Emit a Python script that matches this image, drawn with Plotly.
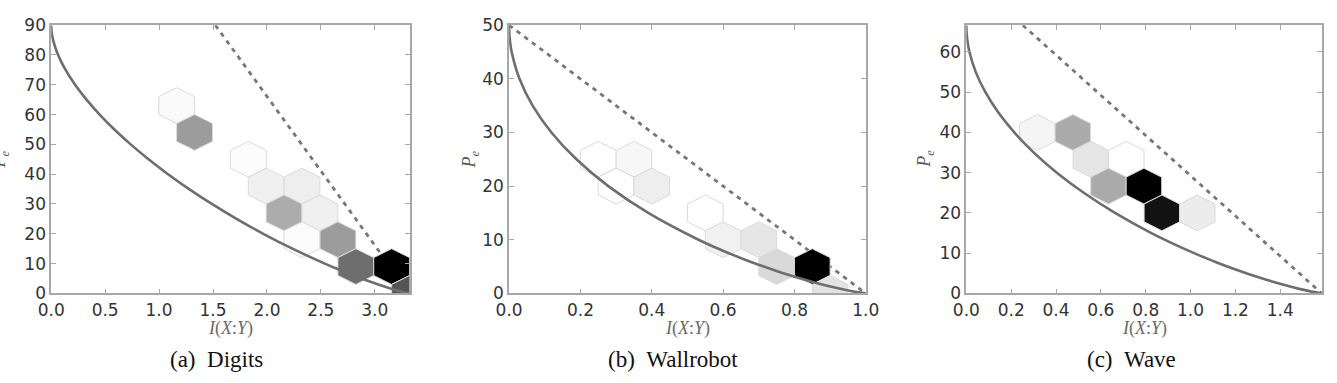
import plotly.graph_objects as go

W, H = 1337, 383

# ---------------- data ----------------
# (a) Digits  (10 classes)
a_hex_I = [1.163, 1.329, 1.827, 1.993, 2.325, 2.159, 2.491, 2.325, 2.658, 2.824, 3.156, 3.322]
a_hex_Pe = [63, 54, 45, 36, 36, 27, 27, 18, 18, 9, 9, 0]
a_hex_density = [0.02, 0.39, 0.01, 0.06, 0.065, 0.325, 0.06, 0.015, 0.39, 0.57, 1.0, 0.67]
a_fano_Pe = [0, 0.5, 1, 2, 4, 6, 8, 10, 15, 20, 25, 30, 35, 40, 45, 50, 55, 60, 65, 70, 75, 80, 85, 88, 89, 90]
a_fano_I = [3.3219, 3.2606, 3.2094, 3.1171, 2.9528, 2.8043, 2.6661, 2.5359, 2.2366, 1.9660, 1.7181,
            1.4896, 1.2784, 1.0830, 0.9027, 0.7370, 0.5857, 0.4490, 0.3274, 0.2217, 0.1332, 0.0641,
            0.0176, 0.0030, 0.0008, 0.0]
a_upper_I = [1.5219, 3.3219]
a_upper_Pe = [90, 0]

# (b) Wallrobot  (2 classes)
b_hex_I = [0.25, 0.35, 0.30, 0.40, 0.55, 0.60, 0.70, 0.75, 0.85, 0.90]
b_hex_Pe = [25, 25, 20, 20, 15, 10, 10, 5, 5, 0]
b_hex_density = [0.005, 0.03, 0.005, 0.065, 0.005, 0.055, 0.10, 0.15, 1.0, 0.11]
b_fano_Pe = [0, 0.5, 1, 2, 4, 6, 8, 10, 15, 20, 25, 30, 35, 40, 45, 47, 48, 49, 50]
b_fano_I = [1.0, 0.9546, 0.9192, 0.8586, 0.7577, 0.6726, 0.5978, 0.5310, 0.3902, 0.2781, 0.1887,
            0.1187, 0.0659, 0.0291, 0.0072, 0.0026, 0.0011, 0.0003, 0.0]
b_upper_I = [0.0, 1.0]
b_upper_Pe = [50, 0]

# (c) Wave  (3 classes)
c_hex_I = [0.317, 0.475, 0.555, 0.713, 0.634, 0.792, 0.872, 1.030]
c_hex_Pe = [40, 40, 33.33, 33.33, 26.67, 26.67, 20, 20]
c_hex_density = [0.04, 0.33, 0.10, 0.005, 0.335, 1.0, 0.93, 0.075]
c_fano_Pe = [0, 0.5, 1, 2, 4, 6, 8, 10, 15, 20, 25, 30, 35, 40, 45, 50, 55, 60, 63, 65, 66.67]
c_fano_I = [1.5850, 1.5345, 1.4942, 1.4235, 1.3027, 1.1975, 1.1028, 1.0160, 0.8251, 0.6630, 0.5237,
            0.4037, 0.3009, 0.2140, 0.1422, 0.0850, 0.0422, 0.0140, 0.0043, 0.0009, 0.0]
c_upper_I = [0.2516, 1.585]
c_upper_Pe = [66.67, 0]

x_max = [3.3219, 1.0, 1.585]
y_max = [90, 50, 66.67]
x_dtick = [0.5, 0.2, 0.2]
captions = ["(a)\u00a0\u00a0Digits", "(b)\u00a0\u00a0Wallrobot", "(c)\u00a0\u00a0Wave"]

panels = [
    (a_hex_I, a_hex_Pe, a_hex_density, a_fano_I, a_fano_Pe, a_upper_I, a_upper_Pe),
    (b_hex_I, b_hex_Pe, b_hex_density, b_fano_I, b_fano_Pe, b_upper_I, b_upper_Pe),
    (c_hex_I, c_hex_Pe, c_hex_density, c_fano_I, c_fano_Pe, c_upper_I, c_upper_Pe),
]

# ---------------- layout geometry (pixels) ----------------
plot_left = [38, 505.7, 972.7]
plot_right = [404, 870, 1335.7]
plot_top, plot_bottom = 16, 299
ylabel_x = [-14, 466, 931]
caption_x = [207, 673.5, 1141.5]

GRIDSIZE = 10


def gray(v):
    g = int(round(255 * (1 - v)))
    return f"rgb({g},{g},{g})"


fig = go.Figure()

for i, (hI, hP, hD, fI, fP, uI, uP) in enumerate(panels):
    xa = "x" if i == 0 else f"x{i+1}"
    ya = "y" if i == 0 else f"y{i+1}"
    sx = x_max[i] / GRIDSIZE
    sy = y_max[i] / int(GRIDSIZE / 3 ** 0.5)

    # upper bound (dashed), below hexes
    fig.add_trace(go.Scatter(x=uI, y=uP, mode="lines", xaxis=xa, yaxis=ya,
                             line=dict(color="#777777", width=2.8, dash="4.5px,5px"),
                             hoverinfo="skip", showlegend=False))
    # hexbins
    for cx, cy, d in zip(hI, hP, hD):
        xs = [cx + sx / 2, cx + sx / 2, cx, cx - sx / 2, cx - sx / 2, cx, cx + sx / 2]
        ys = [cy - sy / 6, cy + sy / 6, cy + sy / 3, cy + sy / 6, cy - sy / 6, cy - sy / 3, cy - sy / 6]
        fig.add_trace(go.Scatter(x=xs, y=ys, mode="lines", fill="toself", fillcolor=gray(d),
                                 line=dict(color="#dadada", width=1), xaxis=xa, yaxis=ya,
                                 hoverinfo="skip", showlegend=False))
    # Fano lower bound (solid)
    fig.add_trace(go.Scatter(x=fI, y=fP, mode="lines", xaxis=xa, yaxis=ya,
                             line=dict(color="#6e6e6e", width=2.6, shape="spline"),
                             hoverinfo="skip", showlegend=False))

axis_common = dict(showgrid=False, zeroline=False, showline=True, linecolor="#a8a8a8", linewidth=1.6,
                   mirror="allticks", ticks="inside", ticklen=5, tickwidth=1, tickcolor="#a8a8a8",
                   tickfont=dict(family="DejaVu Sans", size=17, color="#333333"), fixedrange=True)

layout = dict(width=W, height=H, margin=dict(l=0, r=0, t=0, b=0), paper_bgcolor="white",
              plot_bgcolor="white", showlegend=False)

y0 = 1 - plot_bottom / H
y1 = 1 - plot_top / H
annotations = []
for i in range(3):
    sfx = "" if i == 0 else str(i + 1)
    layout["xaxis" + sfx] = dict(axis_common, domain=[plot_left[i] / W, plot_right[i] / W],
                                 range=[0, x_max[i]], tick0=0, dtick=x_dtick[i], tickformat=".1f",
                                 anchor="y" + sfx)
    layout["yaxis" + sfx] = dict(axis_common, domain=[y0, y1], range=[0, y_max[i]], tick0=0, dtick=10,
                                 anchor="x" + sfx)
    cx = (plot_left[i] + plot_right[i]) / 2
    annotations.append(dict(text="<i>I</i>(<i>X</i>:<i>Y</i>)", x=cx / W, y=1 - 336 / H, xref="paper",
                            yref="paper", showarrow=False, xanchor="center", yanchor="middle",
                            font=dict(family="Liberation Serif", size=18, color="#6a6a6a")))
    annotations.append(dict(text="<i>P</i><sub><i>e</i></sub>", x=ylabel_x[i] / W,
                            y=1 - (plot_top + plot_bottom) / 2 / H, xref="paper", yref="paper",
                            showarrow=False, xanchor="center", yanchor="middle", textangle=-90,
                            font=dict(family="Liberation Serif", size=18, color="#555555")))
    annotations.append(dict(text=captions[i], x=caption_x[i] / W, y=1 - 369 / H, xref="paper",
                            yref="paper", showarrow=False, xanchor="center", yanchor="middle",
                            font=dict(family="Liberation Serif", size=23, color="#111111")))

layout["annotations"] = annotations
fig.update_layout(**layout)
fig.write_html("out.html")
